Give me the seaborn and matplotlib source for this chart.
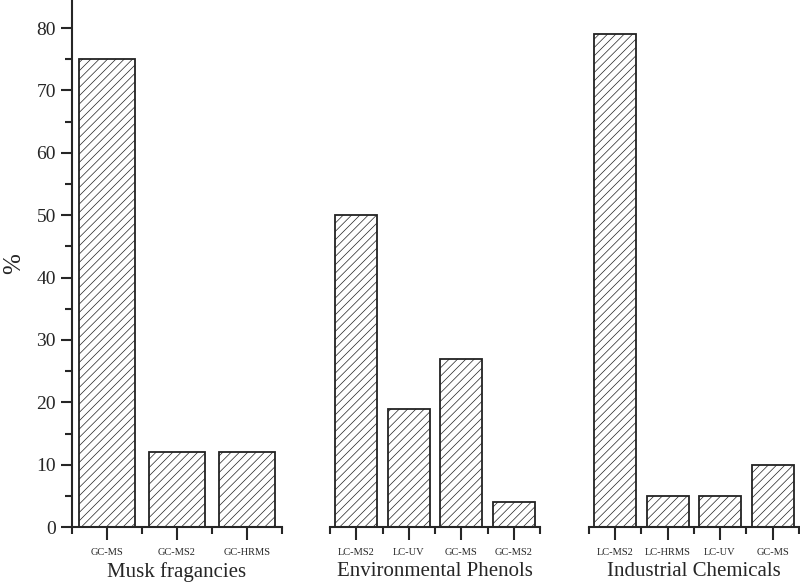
import numpy as np
import pandas as pd
import matplotlib
matplotlib.use("Agg")
import matplotlib.pyplot as plt
import seaborn as sns
from matplotlib.ticker import FixedLocator, MultipleLocator

# data
groups = ["Musk fragancies", "Environmental Phenols", "Industrial Chemicals"]
musk_methods = ["GC-MS", "GC-MS2", "GC-HRMS"]
musk_values = [75, 12, 12]
phenol_methods = ["LC-MS2", "LC-UV", "GC-MS", "GC-MS2"]
phenol_values = [50, 19, 27, 4]
industrial_methods = ["LC-MS2", "LC-HRMS", "LC-UV", "GC-MS"]
industrial_values = [79, 5, 5, 10]

sns.set_style("ticks")
plt.rcParams['font.family'] = ['Liberation Serif', 'DejaVu Serif']
plt.rcParams['hatch.linewidth'] = 0.5

fig = plt.figure(figsize=(8, 5.85), dpi=100)
lefts = [0.09, 0.4125, 0.736]
axes = [fig.add_axes([l, 0.099, 0.2625, 0.901]) for l in lefts]

panels = [(musk_methods, musk_values), (phenol_methods, phenol_values),
          (industrial_methods, industrial_values)]

for i, (ax, grp, (methods, vals)) in enumerate(zip(axes, groups, panels)):
    df = pd.DataFrame({"method": methods, "value": vals})
    sns.barplot(data=df, x="method", y="value", ax=ax, color="white",
                edgecolor="#222222", linewidth=1.3, width=0.8, saturation=1)
    for p in ax.patches:
        p.set_hatch("////")
    n = len(methods)
    ax.set_xlim(-0.5, n - 0.5)
    ax.set_ylim(0, 84.5)
    ax.xaxis.set_minor_locator(FixedLocator(np.arange(n + 1) - 0.5))
    ax.tick_params(axis="x", which="major", direction="out", length=9,
                   width=1.5, labelsize=7.5, pad=6)
    ax.tick_params(axis="x", which="minor", direction="out", length=5, width=1.5)
    ax.set_xlabel(grp, fontsize=15, labelpad=4)
    ax.spines["top"].set_visible(False)
    ax.spines["right"].set_visible(False)
    ax.spines["bottom"].set_linewidth(1.5)
    ax.spines["left"].set_linewidth(1.5)
    if i == 0:
        ax.yaxis.set_major_locator(MultipleLocator(10))
        ax.yaxis.set_minor_locator(MultipleLocator(5))
        ax.tick_params(axis="y", which="major", direction="out", length=8,
                       width=1.5, labelsize=14)
        ax.tick_params(axis="y", which="minor", direction="out", length=5, width=1.5)
        ax.set_ylabel("%", fontsize=18, labelpad=8)
    else:
        ax.spines["left"].set_visible(False)
        ax.set_yticks([])
        ax.set_ylabel("")

fig.savefig("out.png", dpi=100)
